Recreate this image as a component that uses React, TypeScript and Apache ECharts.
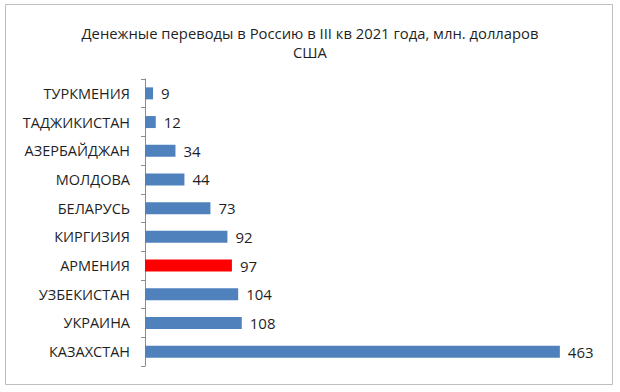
import React, { useEffect, useRef } from "react";
import * as echarts from "echarts";

const titleText = "Денежные переводы в Россию в III кв 2021 года, млн. долларов\nСША";
const categories = [
  "ТУРКМЕНИЯ",
  "ТАДЖИКИСТАН",
  "АЗЕРБАЙДЖАН",
  "МОЛДОВА",
  "БЕЛАРУСЬ",
  "КИРГИЗИЯ",
  "АРМЕНИЯ",
  "УЗБЕКИСТАН",
  "УКРАИНА",
  "КАЗАХСТАН",
];
const values = [9, 12, 34, 44, 73, 92, 97, 104, 108, 463];
const highlight = "АРМЕНИЯ";

const FONT = "'Open Sans', 'Noto Sans', sans-serif";

export default function App() {
  const ref = useRef<HTMLDivElement>(null);
  useEffect(() => {
    document.body.style.margin = "0";
    const chart = echarts.init(ref.current!, null, { renderer: "svg" });
    chart.setOption({
      animation: false,
      backgroundColor: "#ffffff",
      title: {
        text: titleText,
        left: "center",
        top: 18,
        textStyle: {
          fontFamily: FONT,
          fontSize: 14.8,
          fontWeight: "normal",
          color: "#1f1f1f",
          lineHeight: 19,
        },
      },
      graphic: [
        {
          type: "rect",
          shape: { x: 5.5, y: 4.5, width: 607, height: 380 },
          style: { fill: "none", stroke: "#bdbdbd", lineWidth: 1 },
          silent: true,
        },
      ],
      grid: { left: 145, right: 27, top: 79, bottom: 26, containLabel: false },
      xAxis: {
        type: "value",
        min: 0,
        max: 500,
        show: false,
      },
      yAxis: {
        type: "category",
        data: categories,
        inverse: true,
        axisLine: { show: true, lineStyle: { color: "#8c8c8c", width: 1 } },
        axisTick: { show: true, length: 4, lineStyle: { color: "#8c8c8c" } },
        axisLabel: {
          fontFamily: FONT,
          fontSize: 14.5,
          color: "#1f1f1f",
          margin: 15,
        },
      },
      series: [
        {
          type: "bar",
          barWidth: 12,
          data: values.map((v, i) => ({
            value: v,
            itemStyle: { color: categories[i] === highlight ? "#ff0000" : "#4f81bd" },
          })),
          label: {
            show: true,
            position: "right",
            distance: 8,
            fontFamily: FONT,
            fontSize: 15,
            color: "#1f1f1f",
          },
        },
      ],
    });
    return () => chart.dispose();
  }, []);
  return <div ref={ref} style={{ width: 620, height: 392 }} />;
}
